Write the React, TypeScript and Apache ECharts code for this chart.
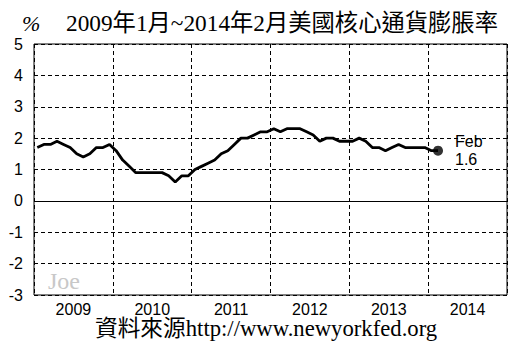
import React, { useEffect, useRef } from "react";
import * as echarts from "echarts";

const years = ["2009", "2010", "2011", "2012", "2013", "2014"];
const yTicks = { min: -3, max: 5, interval: 1 };
const core2009 = [1.7, 1.8, 1.8, 1.9, 1.8, 1.7, 1.5, 1.4, 1.5, 1.7, 1.7, 1.8];
const core2010 = [1.6, 1.3, 1.1, 0.9, 0.9, 0.9, 0.9, 0.9, 0.8, 0.6, 0.8, 0.8];
const core2011 = [1.0, 1.1, 1.2, 1.3, 1.5, 1.6, 1.8, 2.0, 2.0, 2.1, 2.2, 2.2];
const core2012 = [2.3, 2.2, 2.3, 2.3, 2.3, 2.2, 2.1, 1.9, 2.0, 2.0, 1.9, 1.9];
const core2013 = [1.9, 2.0, 1.9, 1.7, 1.7, 1.6, 1.7, 1.8, 1.7, 1.7, 1.7, 1.7];
const core2014 = [1.6, 1.6];
const lastLabel = "Feb";
const titleText = "2009年1月~2014年2月美國核心通貨膨脹率";
const sourceText = "資料來源http://www.newyorkfed.org";

const values = [...core2009, ...core2010, ...core2011, ...core2012, ...core2013, ...core2014];
const monthsTotal = years.length * 12;

const SERIF = "'Liberation Serif', 'Noto Sans CJK TC', serif";
const SANS = "'Liberation Sans', Arial, sans-serif";

export default function App() {
  const ref = useRef<HTMLDivElement>(null);
  useEffect(() => {
    document.body.style.margin = "0";
    if (!ref.current) return;
    const chart = echarts.init(ref.current, null, { renderer: "svg" });
    const lineData = values.map((v, i) => [i + 0.5, v]);
    const lastIdx = values.length - 1;
    chart.setOption({
      animation: false,
      backgroundColor: "#fff",
      grid: {
        left: 34,
        right: 15,
        top: 44,
        bottom: 55,
        show: true,
        borderColor: "#000",
        borderWidth: 1,
        backgroundColor: "transparent",
      },
      graphic: [
        {
          type: "text",
          left: 22,
          top: 12,
          style: { text: "%", font: `italic 22px ${SERIF}`, fill: "#000" },
        },
        {
          type: "text",
          left: 66,
          top: 11,
          style: { text: titleText, font: `23.3px ${SERIF}`, fill: "#000" },
        },
        {
          type: "text",
          left: 48,
          top: 269,
          style: { text: "Joe", font: `24px ${SERIF}`, fill: "#c8c8c8" },
        },
        {
          type: "text",
          left: 95,
          top: 317,
          style: { text: sourceText, font: `22.7px ${SERIF}`, fill: "#000" },
        },
      ],
      xAxis: [
        {
          type: "value",
          min: 0,
          max: monthsTotal,
          interval: 12,
          axisLine: { show: false },
          axisTick: { show: false },
          axisLabel: { show: false },
          splitLine: { show: true, lineStyle: { color: "#000", type: [4, 3], width: 1 } },
        },
        {
          type: "category",
          data: years,
          boundaryGap: true,
          position: "bottom",
          axisLine: { show: false },
          axisTick: { show: false },
          splitLine: { show: false },
          axisLabel: { color: "#000", fontSize: 16, fontFamily: SANS, margin: 6 },
        },
      ],
      yAxis: {
        type: "value",
        min: yTicks.min,
        max: yTicks.max,
        interval: yTicks.interval,
        axisLine: { show: false },
        axisTick: { show: false },
        axisLabel: { color: "#000", fontSize: 16, fontFamily: SANS, margin: 11 },
        splitLine: { show: true, lineStyle: { color: "#000", type: [4, 3], width: 1 } },
      },
      series: [
        {
          type: "line",
          xAxisIndex: 0,
          data: lineData,
          symbol: "none",
          lineStyle: { color: "#000", width: 2.8 },
          markLine: {
            silent: true,
            symbol: "none",
            label: { show: false },
            lineStyle: { color: "#000", type: "solid", width: 1 },
            data: [{ yAxis: 0 }],
          },
          z: 3,
        },
        {
          type: "scatter",
          xAxisIndex: 0,
          data: [[lastIdx + 0.5, values[lastIdx]]],
          symbol: "circle",
          symbolSize: 10,
          itemStyle: { color: "#000" },
          label: {
            show: true,
            position: "right",
            distance: 12,
            formatter: () => `${lastLabel}\n${values[lastIdx].toFixed(1)}`,
            color: "#000",
            textBorderWidth: 0,
            opacity: 1,
            fontSize: 16,
            fontFamily: SANS,
            lineHeight: 18,
            align: "left",
          },
          z: 4,
        },
      ],
    });
    return () => chart.dispose();
  }, []);
  return <div ref={ref} style={{ width: 522, height: 350 }} />;
}
